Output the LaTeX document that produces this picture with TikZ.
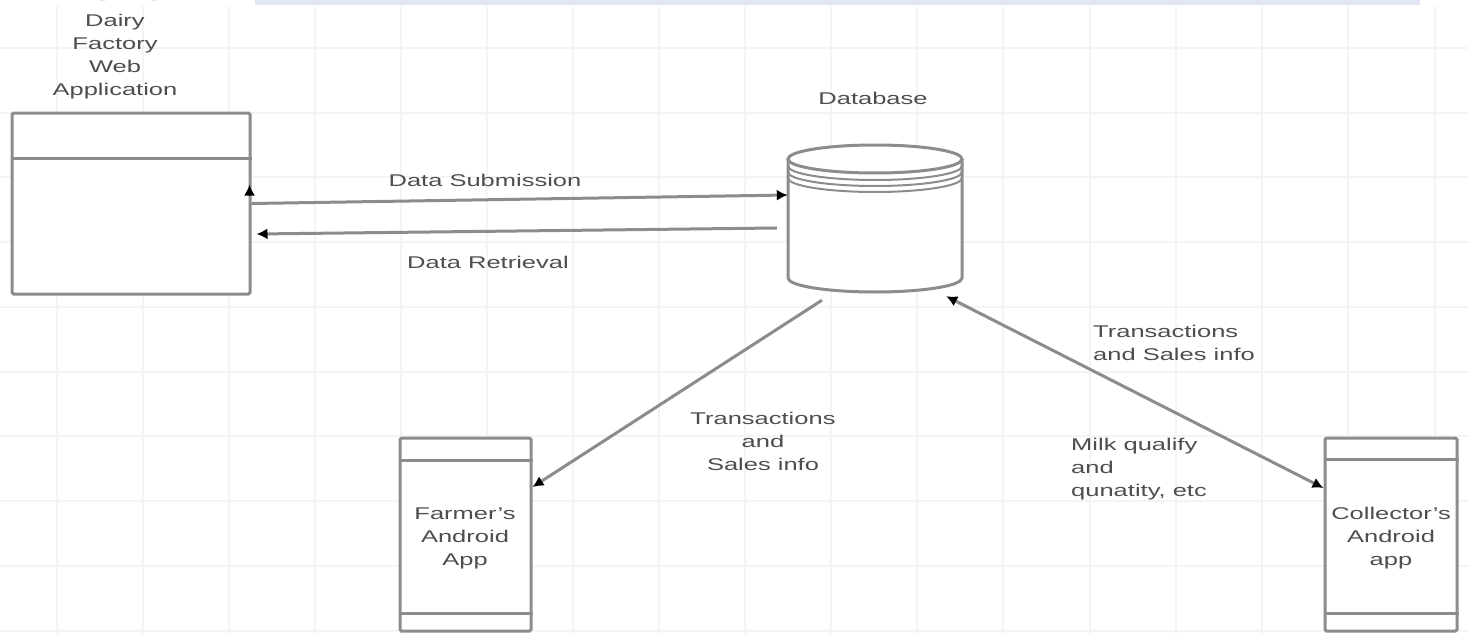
\documentclass[tikz,border=0pt]{standalone}
\usepackage{fontspec}
\setmainfont{Liberation Sans}[FakeStretch=1.5]
\usetikzlibrary{arrows.meta,calc}
\definecolor{linegray}{HTML}{8C8C8C}
\definecolor{txtgray}{HTML}{4E4E4E}
\definecolor{gridc}{HTML}{F2F4F7}
\definecolor{bandc}{HTML}{E2E5F3}
\definecolor{arcc}{HTML}{D3E2EF}
\tikzset{
  lbl/.style={text=txtgray, font=\fontsize{17}{23}\selectfont, inner sep=0pt, align=center},
  lbll/.style={lbl, align=left, anchor=west},
  appbox/.style={draw=linegray, line width=3pt, rounded corners=1.5pt, fill=white, inner sep=0pt},
  conn/.style={draw=linegray, line width=3pt},
  tip/.style={-{Latex[length=11pt,width=11pt,black]}},
  bitip/.style={{Latex[length=11pt,width=11pt,black]}-{Latex[length=11pt,width=11pt,black]}}
}
\begin{document}
\begin{tikzpicture}[x=1pt,y=-1pt]
\useasboundingbox (0,0) rectangle (1468,634);
\fill[white] (0,0) rectangle (1468,634);
% grid
\foreach \gx in {57,143,229,315,401,487,573,659,745,831,917,1003,1090,1176,1262,1348,1435}
  \draw[gridc, line width=1.2pt] (\gx,6) -- (\gx,634);
\foreach \gy in {48,113,177,242,307,372,436,501,566,631}
  \draw[gridc, line width=1.2pt] (0,\gy) -- (1468,\gy);
% top artefacts
\fill[bandc] (255,0) rectangle (1420,5);
\draw[arcc, line width=3pt] (100,0) arc[start angle=200, end angle=340, x radius=30pt, y radius=-4pt];

% web application box
\node[appbox, minimum width=238pt, minimum height=181pt] (web) at (131,203.5) {};
\draw[linegray, line width=3pt] (web.north west |- 0,158) -- (web.north east |- 0,158);
\node[lbl] (weblbl) at (115,56.5) {Dairy\\Factory\\Web\\Application};

% database
\node[minimum width=174pt, minimum height=147pt, inner sep=0pt] (db) at (875,218.5) {};
\begin{scope}[linegray]
  \fill[white] (788,159) -- (788,278) arc[start angle=180, end angle=360, x radius=87pt, y radius=14pt] -- (962,159) -- cycle;
  \fill[white] (875,159) ellipse[x radius=87pt, y radius=14pt];
  \draw[line width=2pt] (788,166) arc[start angle=180, end angle=360, x radius=87pt, y radius=14pt];
  \draw[line width=2pt] (788,172) arc[start angle=180, end angle=360, x radius=87pt, y radius=14pt];
  \draw[line width=2pt] (788,178) arc[start angle=180, end angle=360, x radius=87pt, y radius=14pt];
  \draw[line width=3pt] (875,159) ellipse[x radius=87pt, y radius=14pt];
  \draw[line width=3pt] (788,159) -- (788,278) arc[start angle=180, end angle=360, x radius=87pt, y radius=14pt] -- (962,159);
\end{scope}
\node[lbl] (dblbl) at (873,98) {Database};

% android apps
\node[appbox, minimum width=131pt, minimum height=193pt] (farmer) at (465.5,534.5) {};
\draw[linegray, line width=3pt] (farmer.west |- 0,460) -- (farmer.east |- 0,460);
\draw[linegray, line width=3pt] (farmer.west |- 0,613) -- (farmer.east |- 0,613);
\node[lbl] (farmerlbl) at (465,538) {Farmer's\\Android\\App};

\node[appbox, minimum width=132pt, minimum height=193pt] (coll) at (1391,534.5) {};
\draw[linegray, line width=3pt] (coll.west |- 0,459) -- (coll.east |- 0,459);
\draw[linegray, line width=3pt] (coll.west |- 0,613) -- (coll.east |- 0,613);
\node[lbl] (colllbl) at (1391,538) {Collector's\\Android\\app};

% connectors
\draw[conn, tip] (web.east) -- ([yshift=23.5pt]db.west);
\draw[conn, tip] ([xshift=-11pt,yshift=-9.5pt]db.west) -- ([xshift=5pt,yshift=-30.5pt]web.east);
\draw[conn, tip] ([xshift=-2pt,yshift=8pt]web.east) -- ([xshift=-2pt,yshift=19pt]web.east);
\draw[conn, tip] ([xshift=-53pt,yshift=-8pt]db.south) -- ([yshift=47.5pt]farmer.east);
\draw[conn, bitip] ([xshift=-16pt,yshift=-4pt]db.south east) -- ([yshift=46.5pt]coll.west);

% connector labels
\node[lbl] (sublbl) at (485,180) {Data Submission};
\node[lbl] (retlbl) at (488,262) {Data Retrieval};
\node[lbl] (t1lbl) at (763,441) {Transactions\\and\\Sales info};
\node[lbll] (t2lbl) at (1093,343) {Transactions\\and Sales info};
\node[lbll] (milklbl) at (1071,469) {Milk qualify\\and\\qunatity, etc};
\end{tikzpicture}
\end{document}
